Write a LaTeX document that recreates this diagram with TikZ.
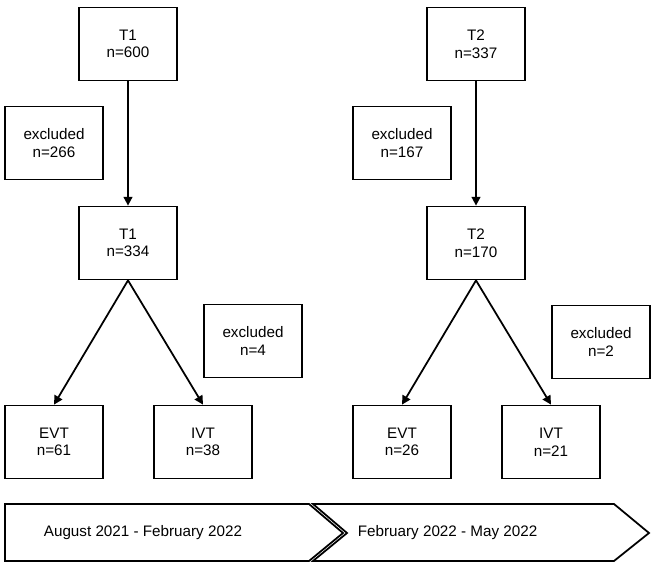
\documentclass[tikz,border=0pt]{standalone}
\usepackage{fontspec}
\setmainfont{Liberation Sans}
\usetikzlibrary{arrows.meta,positioning}

\begin{document}
\begin{tikzpicture}[x=0.03cm,y=-0.03cm,font=\fontsize{13}{15}\selectfont,
  >={Triangle[length=7.5pt,width=7.5pt]},line width=1.5pt,
  cbox/.style={draw,minimum width=2.94cm,minimum height=2.19cm,align=center,inner sep=0pt},
  period/.style={anchor=west,inner sep=0pt}]
  \useasboundingbox (0,0) rectangle (656,567);
  % August 2021 - February 2022
  \node[cbox] (t1a) at (128,44) {T1\\n=600};
  \node[cbox] (exa) at (54,143) {excluded\\n=266};
  \node[cbox] (t1b) at (128,243) {T1\\n=334};
  \node[cbox] (exb) at (253,341) {excluded\\n=4};
  \node[cbox] (evta) at (54,442) {EVT\\n=61};
  \node[cbox] (ivta) at (203,442) {IVT\\n=38};
  \draw[->] (t1a) -- (t1b);
  \draw[->] (t1b.south) -- (evta.north);
  \draw[->] (t1b.south) -- (ivta.north);
  % February 2022 - May 2022
  \node[cbox] (t2a) at (476,44) {T2\\n=337};
  \node[cbox] (exc) at (402,143) {excluded\\n=167};
  \node[cbox] (t2b) at (476,243) {T2\\n=170};
  \node[cbox] (exd) at (601,342) {excluded\\n=2};
  \node[cbox] (evtb) at (402,442) {EVT\\n=26};
  \node[cbox] (ivtb) at (551,442) {IVT\\n=21};
  \draw[->] (t2a) -- (t2b);
  \draw[->] (t2b.south) -- (evtb.north);
  \draw[->] (t2b.south) -- (ivtb.north);
  % timeline
  \draw (5,504) -- (309,504) -- (343,533) -- (309,561) -- (5,561) -- cycle;
  \draw (313,504) -- (614,504) -- (649,533) -- (614,561) -- (313,561) -- (347,533) -- cycle;
  \node[period] (per1) at (43,533) {August 2021 - February 2022};
  \node[period] (per2) at (357,533) {February 2022 - May 2022};
\end{tikzpicture}
\end{document}
